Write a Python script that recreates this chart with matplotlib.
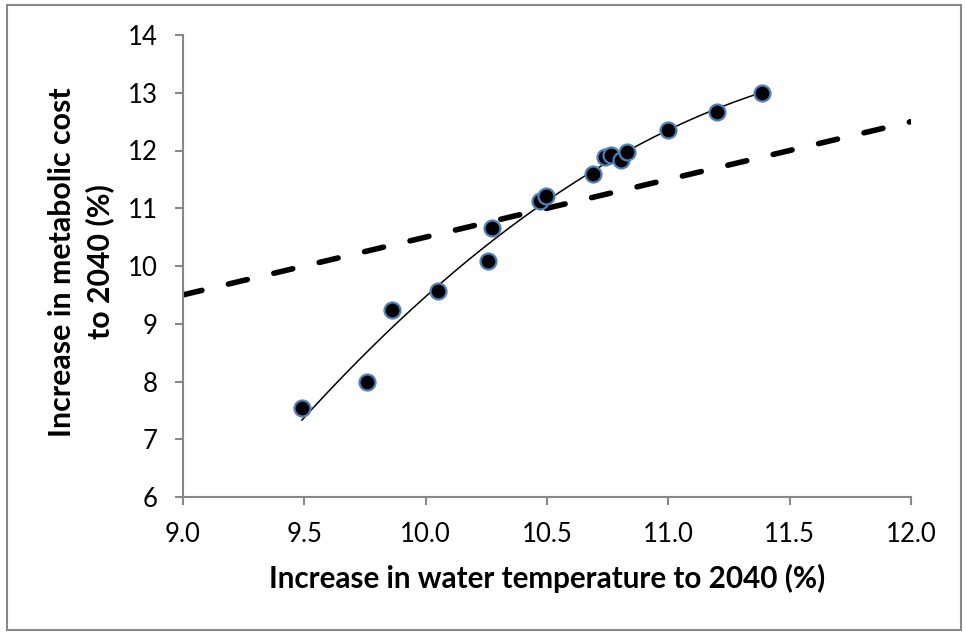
import numpy as np
import matplotlib
matplotlib.use("Agg")
import matplotlib.pyplot as plt
from matplotlib.patches import Rectangle

# Data
temp_increase = [9.49, 9.76, 9.86, 10.05, 10.255, 10.275, 10.47, 10.495,
                 10.69, 10.74, 10.765, 10.805, 10.83, 11.0, 11.2, 11.385]
metab_increase = [7.54, 8.00, 9.24, 9.56, 10.08, 10.66, 11.13, 11.21,
                  11.60, 11.88, 11.93, 11.83, 11.98, 12.35, 12.67, 13.00]
ref_x = [9.0, 12.0]
ref_y = [9.5, 12.5]
xticks = [9.0, 9.5, 10.0, 10.5, 11.0, 11.5, 12.0]
yticks = [6, 7, 8, 9, 10, 11, 12, 13, 14]
ylabel_lines = ['Increase in metabolic cost', 'to 2040 (%)']

plt.rcParams['font.family'] = ['Lato', 'DejaVu Sans']

W, H = 965, 633
fig = plt.figure(figsize=(W / 100, H / 100), dpi=100)
ax = fig.add_axes([183 / W, 1 - 497 / H, (911 - 183) / W, (497 - 35) / H])

grey = '#888888'
# dashed reference line
ax.plot(ref_x, ref_y, color='black', lw=4.0, linestyle=(0, (3.5, 4.9)),
        dash_capstyle='round', solid_capstyle='round', zorder=2)

# polynomial (order 2) trendline
coef = np.polyfit(temp_increase, metab_increase, 2)
xx = np.linspace(min(temp_increase), max(temp_increase), 200)
ax.plot(xx, np.polyval(coef, xx), color='black', lw=1.1, zorder=3)

# points
ax.plot(temp_increase, metab_increase, linestyle='none', marker='o',
        markersize=11.5, markerfacecolor='black', markeredgecolor='#4F81BD',
        markeredgewidth=1.6, zorder=4)

ax.set_xlim(9.0, 12.0)
ax.set_ylim(6, 14)
ax.set_xticks(xticks)
ax.set_xticklabels([f"{v:.1f}" for v in xticks])
ax.set_yticks(yticks)
ax.set_yticklabels([str(v) for v in yticks])

for s in ['top', 'right']:
    ax.spines[s].set_visible(False)
for s in ['left', 'bottom']:
    ax.spines[s].set_color(grey)
    ax.spines[s].set_linewidth(1.5)

ax.tick_params(axis='both', colors=grey, labelcolor='black', length=6,
               width=1.5, direction='out', labelsize=18.5)
ax.tick_params(axis='y', pad=12)
ax.tick_params(axis='x', pad=12)

ax.set_xlabel('Increase in water temperature to 2040 (%)', fontsize=21.3,
              fontweight='bold', labelpad=12)

for line, xc in zip(ylabel_lines, [62, 100]):
    fig.text(xc / W, 1 - 262 / H, line, rotation=90, ha='center', va='center',
             fontsize=21.8, fontweight='bold')

fig.patches.append(Rectangle((7 / W, 1 - 630 / H), (961 - 7) / W, (630 - 5) / H,
                             transform=fig.transFigure, fill=False,
                             edgecolor=grey, linewidth=1.5))

fig.savefig('out.png', dpi=100)
